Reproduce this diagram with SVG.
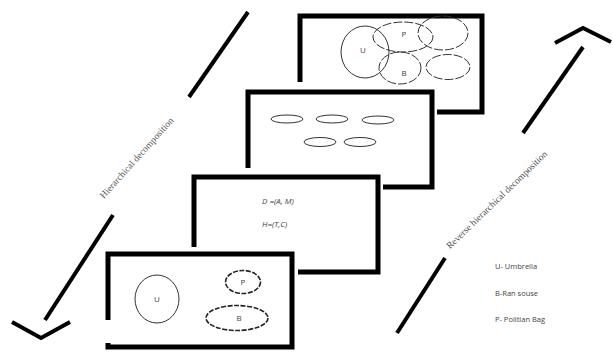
<svg xmlns="http://www.w3.org/2000/svg" width="613" height="352" viewBox="0 0 613 352">
  <style>
    .frame { fill: none; stroke: #000; stroke-width: 5; stroke-linejoin: miter; stroke-linecap: butt; }
    .axis { fill: none; stroke: #000; stroke-width: 4; stroke-linecap: butt; stroke-linejoin: miter; }
    .set { fill: none; stroke: #333; stroke-width: 1; }
    .dash { fill: none; stroke: #333; stroke-width: 1; stroke-dasharray: 9 2; }
    .blob { fill: none; stroke: #222; stroke-width: 1.6; stroke-dasharray: 5 1.5; }
    .lbl { font-family: "Open Sans", "Liberation Sans", sans-serif; font-size: 8px; fill: #444; text-anchor: middle; }
    .eq { font-family: "Open Sans", "Liberation Sans", sans-serif; font-size: 8px; font-style: italic; fill: #444; }
    .legend { font-family: "Open Sans", "Liberation Sans", sans-serif; font-size: 7.5px; fill: #444; }
    .side { font-family: "Liberation Serif", serif; font-size: 9.5px; fill: #555; text-anchor: middle; }
  </style>

  <!-- decomposition axes -->
  <g id="connectors">
    <g id="down-arrow">
      <line class="axis" x1="248" y1="12" x2="189" y2="97"/>
      <line class="axis" x1="113" y1="215" x2="45" y2="320"/>
      <polyline class="axis" points="12,322 41,338 70,322"/>
      <text class="side" transform="translate(139,160) rotate(-48)">Hierarchical decomposition</text>
    </g>
    <g id="up-arrow">
      <line class="axis" x1="397" y1="333" x2="445" y2="258"/>
      <line class="axis" x1="523" y1="133" x2="583" y2="47"/>
      <polyline class="axis" points="555,43 583,28 611,42"/>
      <text class="side" transform="translate(499,202) rotate(-44)">Reverse hierarchical decomposition</text>
    </g>
  </g>

  <!-- level 1: overlapping sets -->
  <g id="level-1">
    <path class="frame" d="M300,82 V16 H482 V112 H437"/>
    <ellipse class="set" cx="365" cy="52" rx="24" ry="26"/>
    <ellipse class="dash" cx="403" cy="37" rx="30" ry="15"/>
    <ellipse class="dash" cx="443" cy="33" rx="25" ry="17"/>
    <ellipse class="dash" cx="400" cy="68" rx="21" ry="16"/>
    <ellipse class="dash" cx="448" cy="67" rx="22" ry="12.5"/>
    <text class="lbl" x="363" y="53" style="fill:#633">U</text>
    <text class="lbl" x="404" y="37">P</text>
    <text class="lbl" x="404" y="76">B</text>
  </g>

  <!-- level 2: separated sets -->
  <g id="level-2">
    <path class="frame" d="M248,168 V92 H432 V187 H383"/>
    <ellipse class="set" cx="287" cy="119" rx="16" ry="4"/>
    <ellipse class="set" cx="332" cy="119" rx="16" ry="4"/>
    <ellipse class="set" cx="378" cy="120" rx="16" ry="4"/>
    <ellipse class="set" cx="320" cy="142" rx="16" ry="4.5"/>
    <ellipse class="set" cx="360" cy="142" rx="16" ry="4.5"/>
  </g>

  <!-- level 3: relations -->
  <g id="level-3">
    <path class="frame" d="M194,247 V177 H378 V272 H298"/>
    <text class="eq" x="262" y="204">D =(A, M)</text>
    <text class="eq" x="262" y="227">H=(T,C)</text>
  </g>

  <!-- level 4: base objects -->
  <g id="level-4">
    <path class="frame" d="M108,320 V254 H292 V347 H108 V343"/>
    <ellipse class="set" cx="157" cy="299" rx="22" ry="24"/>
    <ellipse class="blob" cx="243" cy="282" rx="17.5" ry="11.5"/>
    <ellipse class="blob" cx="237" cy="318" rx="31" ry="12.5"/>
    <text class="lbl" x="157" y="302">U</text>
    <text class="lbl" x="243" y="285">P</text>
    <text class="lbl" x="239" y="321">B</text>
  </g>

  <!-- key -->
  <g id="legend">
    <text class="legend" x="495" y="269">U- Umbrella</text>
    <text class="legend" x="495" y="296">B-Ran souse</text>
    <text class="legend" x="495" y="322">P- Politian Bag</text>
  </g>
</svg>
